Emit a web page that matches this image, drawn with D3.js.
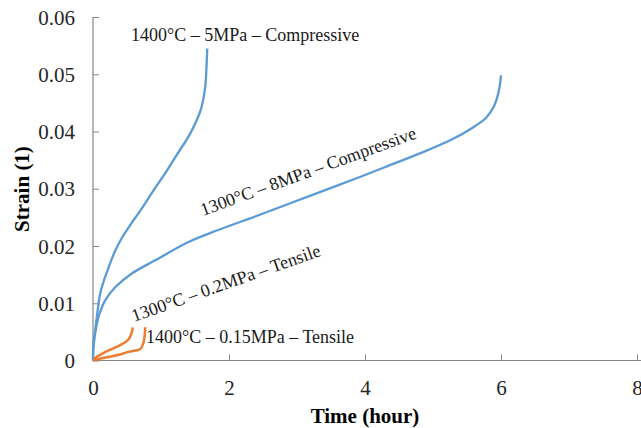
<!DOCTYPE html>
<html>
<head>
<meta charset="utf-8">
<script src="https://cdn.jsdelivr.net/npm/d3@7"></script>
<style>
  body { margin: 0; background: #fff; }
  svg { display: block; }
  svg text { font-family: "Liberation Serif", "Times New Roman", serif; }
</style>
</head>
<body>
<div id="chart"></div>
<script>
// creep curves, time in hours vs strain
const time1400c5 = [0, 0.004, 0.015, 0.032, 0.056, 0.106, 0.17, 0.228, 0.32, 0.424, 0.5, 0.571, 0.65, 0.73, 0.89, 1.05, 1.209, 1.404, 1.503, 1.59, 1.65, 1.67, 1.68];
const strain1400c5 = [0, 0.0025, 0.0040, 0.0052, 0.0076, 0.0117, 0.0143, 0.0162, 0.0190, 0.0214, 0.0228, 0.0241, 0.0254, 0.0268, 0.0297, 0.0325, 0.0355, 0.0391, 0.0414, 0.0440, 0.0478, 0.0515, 0.0545];

const time1300c8 = [0, 0.004, 0.015, 0.032, 0.081, 0.179, 0.326, 0.571, 0.915, 1.404, 1.82, 2.463, 3.199, 3.934, 4.3, 4.77, 5.26, 5.6, 5.78, 5.9, 5.97, 6.0];
const strain1300c8 = [0, 0.0018, 0.0032, 0.0047, 0.0076, 0.0105, 0.0128, 0.0152, 0.0175, 0.0207, 0.0227, 0.0255, 0.0288, 0.0321, 0.0338, 0.0360, 0.0385, 0.0408, 0.0424, 0.0445, 0.0472, 0.0498];

const time1300t02 = [0, 0.05, 0.15, 0.276, 0.4, 0.474, 0.53, 0.555, 0.575, 0.585];
const strain1300t02 = [0, 0.0006, 0.0013, 0.0020, 0.0027, 0.0032, 0.0038, 0.0044, 0.0051, 0.0058];

const time1400t015 = [0, 0.1, 0.228, 0.38, 0.522, 0.694, 0.73, 0.75, 0.762, 0.768];
const strain1400t015 = [0, 0.0003, 0.0006, 0.0010, 0.0015, 0.0020, 0.0027, 0.0035, 0.0046, 0.0058];

const xTicks = [0, 2, 4, 6, 8];
const yTicks = [0, 0.01, 0.02, 0.03, 0.04, 0.05, 0.06];
const yTickLabels = ["0", "0.01", "0.02", "0.03", "0.04", "0.05", "0.06"];

const series = [
  {t: time1400c5, s: strain1400c5, color: "#5B9BD5", w: 2.3},
  {t: time1300c8, s: strain1300c8, color: "#5B9BD5", w: 2.3},
  {t: time1300t02, s: strain1300t02, color: "#ED7D31", w: 2.5},
  {t: time1400t015, s: strain1400t015, color: "#ED7D31", w: 2.5}
];

const width = 641, height = 428;
const svg = d3.select("#chart").append("svg")
    .attr("width", width)
    .attr("height", height);

const x = d3.scaleLinear().domain([0, 8]).range([93, 637]);
const y = d3.scaleLinear().domain([0, 0.06]).range([360.5, 17]);

// y axis
const yAxis = svg.append("g")
    .attr("transform", `translate(${x(0)},0)`)
    .call(d3.axisLeft(y).tickValues(yTicks).tickSizeInner(-6).tickSizeOuter(0)
      .tickFormat((d, i) => yTickLabels[i]));
yAxis.attr("font-family", null).attr("font-size", null);
yAxis.select(".domain").remove();
yAxis.selectAll(".tick line").attr("stroke", "#868686");
yAxis.selectAll(".tick text")
    .attr("x", -18).attr("dy", "0.34em")
    .style("font-size", "21px").attr("fill", "#262626");
svg.append("line")
    .attr("x1", x(0)).attr("x2", x(0))
    .attr("y1", y(0.06)).attr("y2", y(0))
    .attr("stroke", "#868686").attr("stroke-width", 1.2);

// x axis
const xAxis = svg.append("g")
    .attr("transform", `translate(0,${y(0)})`)
    .call(d3.axisBottom(x).tickValues(xTicks).tickSizeInner(-6).tickSizeOuter(0));
xAxis.attr("font-family", null).attr("font-size", null);
xAxis.select(".domain").remove();
xAxis.selectAll(".tick line").attr("stroke", "#868686");
xAxis.selectAll(".tick text")
    .attr("y", 34).attr("dy", 0)
    .style("font-size", "21px").attr("fill", "#262626");
svg.append("line")
    .attr("x1", x(0)).attr("x2", width)
    .attr("y1", y(0)).attr("y2", y(0))
    .attr("stroke", "#868686").attr("stroke-width", 1.2);

// curves
const line = d3.line()
    .x(d => x(d[0]))
    .y(d => y(d[1]))
    .curve(d3.curveCatmullRom.alpha(0.5));

series.forEach(sr => {
  svg.append("path")
      .datum(sr.t.map((t, i) => [t, sr.s[i]]))
      .attr("fill", "none")
      .attr("stroke", sr.color)
      .attr("stroke-width", sr.w)
      .attr("stroke-linejoin", "round")
      .attr("d", line);
});

// axis titles
svg.append("text")
    .attr("x", 365).attr("y", 423)
    .attr("text-anchor", "middle")
    .style("font-size", "21px").attr("font-weight", "bold")
    .text("Time (hour)");

svg.append("text")
    .attr("transform", "translate(29,189) rotate(-90)")
    .attr("text-anchor", "middle")
    .style("font-size", "21px").attr("font-weight", "bold")
    .text("Strain (1)");

// curve labels
const labels = svg.append("g").style("font-size", "18px").attr("fill", "#1a1a1a");
labels.append("text").attr("x", 131).attr("y", 41)
    .text("1400°C – 5MPa – Compressive");
labels.append("text").attr("transform", "translate(203,216) rotate(-20)")
    .text("1300°C – 8MPa – Compressive");
labels.append("text").attr("transform", "translate(134,322) rotate(-19.5)")
    .text("1300°C – 0.2MPa – Tensile");
labels.append("text").attr("x", 146).attr("y", 343)
    .text("1400°C – 0.15MPa – Tensile");
</script>
</body>
</html>
